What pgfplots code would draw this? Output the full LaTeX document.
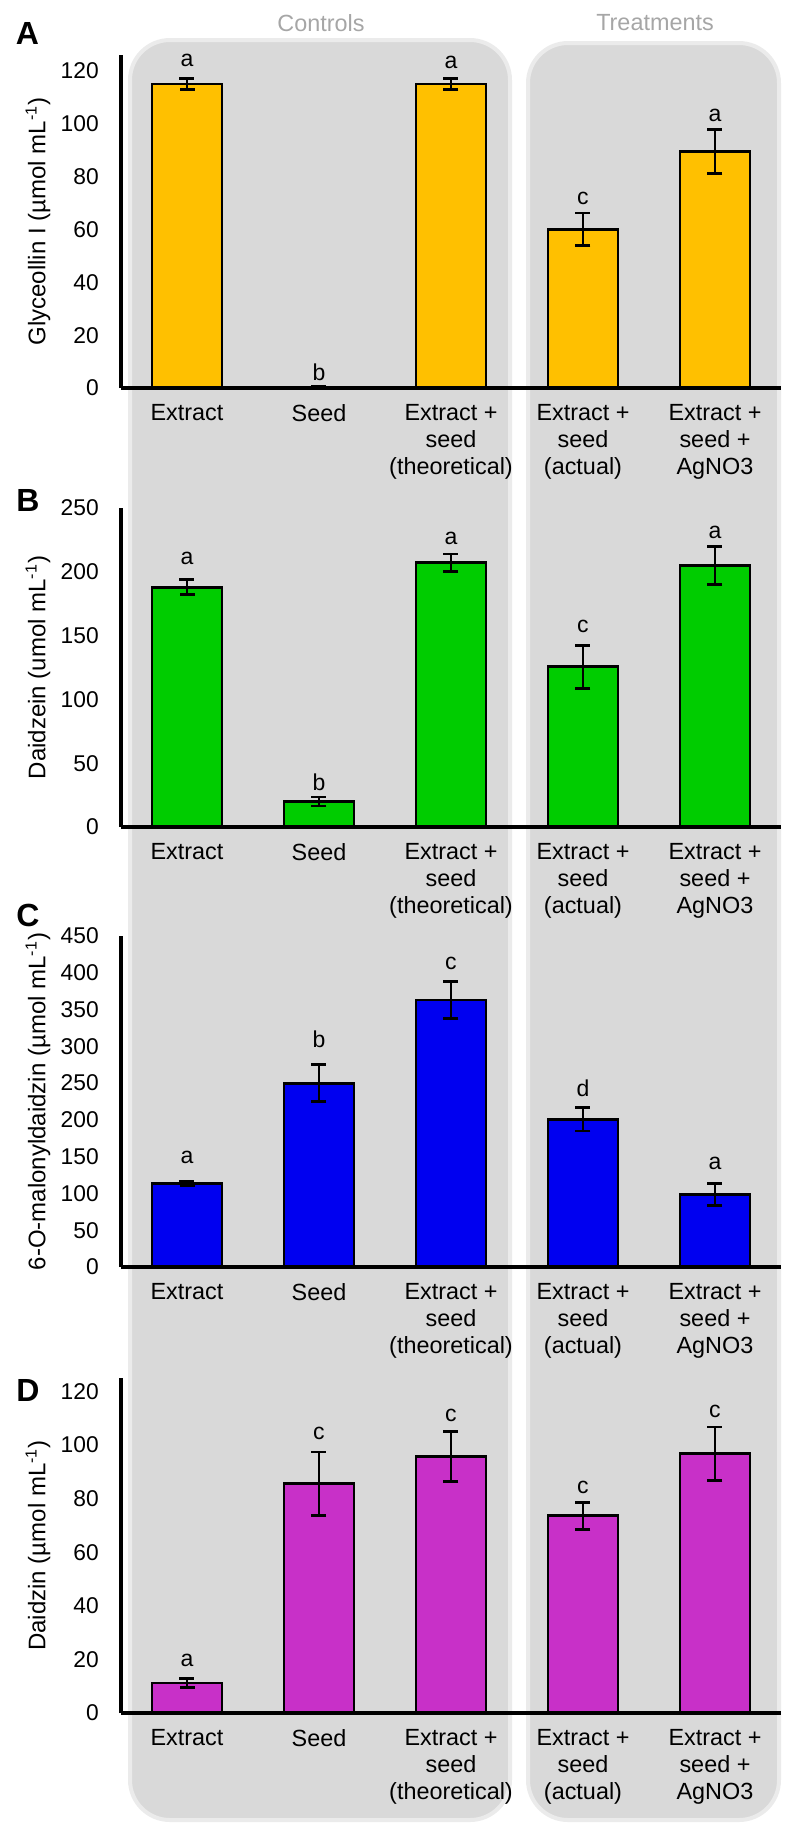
\documentclass[border=0pt]{standalone}
\usepackage{fontspec}
\setmainfont{Liberation Sans}
\usepackage{pgfplots}
\pgfplotsset{compat=1.18}
\usepackage{pgfplotstable}

\definecolor{cA}{HTML}{FFC000}
\definecolor{cB}{HTML}{00CC00}
\definecolor{cC}{HTML}{0000F0}
\definecolor{cD}{HTML}{C830C8}
\definecolor{boxgray}{HTML}{D9D9D9}
\definecolor{boxedge}{HTML}{EBEBEB}
\definecolor{grouptext}{HTML}{A6A6A6}

% x = category, y = mean, ep/em = error up/down, ly = letter position, l = letter
\pgfplotstableread{
x y ep em ly l
0 115 2 2 123.9 a
1 0 0.7 0 6.1 b
2 115 2 2 123.1 a
3 60 6.2 6.2 71.6 c
4 89.4 8.3 8.3 103.0 a
}\dataA
\pgfplotstableread{
x y ep em ly l
0 188 6 6 210.4 a
1 20 3.5 3.5 35.4 b
2 207 7 7 226.3 a
3 125.5 17 17 157 c
4 205 15 15 230.7 a
}\dataB
\pgfplotstableread{
x y ep em ly l
0 114 3 3 149.1 a
1 250 25 25 309.5 b
2 363 25 25 412.9 c
3 201 16 16 243 d
4 99 15 15 141 a
}\dataC
\pgfplotstableread{
x y ep em ly l
0 11.2 1.7 1.7 19.6 a
1 85.5 11.9 11.9 104.5 c
2 95.6 9.3 9.3 111 c
3 73.6 5 5 84 c
4 96.7 10 10 112.6 c
}\dataD

\pgfplotsset{
  panel/.style={
    scale only axis, width=330pt,
    xmin=-0.5, xmax=4.5, ymin=0,
    axis x line=bottom, axis y line=left,
    axis line style={line width=1.6pt, -},
    axis on top,
    xtick={0,1,2,3,4},
    xticklabels={Extract, Seed, {Extract +\\seed\\(theoretical)}, {Extract +\\seed\\(actual)}, {Extract +\\seed +\\AgNO3}},
    xticklabel style={align=center, font=\fontsize{11.7}{13.5}\selectfont, anchor=north, yshift=-4.6pt},
    major tick length=0pt,
    yticklabel style={font=\fontsize{11.4}{13}\selectfont, xshift=-7.6pt},
    /pgf/number format/assume math mode=true,
    ylabel style={at={(axis description cs:-0.1258,0.5)}, anchor=center, font=\fontsize{12}{14}\selectfont},
    clip=false,
  },
  bars/.style={
    ybar, bar width=35pt, bar shift=0pt,
    fill=#1, draw=black, line width=1.4pt,
    error bars/.cd, y dir=both, y explicit,
    error bar style={line width=1.4pt, black},
    error mark options={rotate=90, mark size=3.75pt, line width=1.4pt, black},
  },
  letters/.style={
    draw=none, mark=none, nodes near coords, point meta=explicit symbolic,
    every node near coord/.append style={anchor=center, font=\fontsize{11.5}{13}\selectfont, black, inner sep=0pt},
  },
}

\begin{document}
\begin{tikzpicture}
\path[use as bounding box] (0,0) rectangle (392.5pt,-921.5pt);

% group background boxes
\fill[boxgray, rounded corners=20pt, draw=boxedge, line width=2pt] (65pt,-20pt) rectangle (255pt,-910pt);
\fill[boxgray, rounded corners=20pt, draw=boxedge, line width=2pt] (264pt,-21.5pt) rectangle (389.5pt,-910pt);

\node[text=grouptext, font=\fontsize{11.7}{14}\selectfont] at (160.5pt,-11.5pt) {Controls};
\node[text=grouptext, font=\fontsize{11.7}{14}\selectfont] at (327.5pt,-11.5pt) {Treatments};

\node[font=\fontsize{16}{16}\selectfont\bfseries] at (13.75pt,-16.75pt) {A};
\node[font=\fontsize{16}{16}\selectfont\bfseries] at (14pt,-250pt) {B};
\node[font=\fontsize{16}{16}\selectfont\bfseries] at (14pt,-457.5pt) {C};
\node[font=\fontsize{16}{16}\selectfont\bfseries] at (14pt,-695pt) {D};

% Panel A
\begin{axis}[panel, at={(60.5pt,-194pt)}, anchor=south west, height=166.5pt,
  ymax=126, ytick={0,20,...,120},
  ylabel={Glyceollin I (µmol mL\textsuperscript{-1})}]
\addplot[bars=cA] table[x=x, y=y, y error plus=ep, y error minus=em] {\dataA};
\addplot[letters] table[x=x, y=ly, meta=l] {\dataA};
\end{axis}

% Panel B
\begin{axis}[panel, at={(60.5pt,-413.5pt)}, anchor=south west, height=159.5pt,
  ymax=250, ytick={0,50,...,250},
  ylabel={Daidzein (umol mL\textsuperscript{-1})}]
\addplot[bars=cB] table[x=x, y=y, y error plus=ep, y error minus=em] {\dataB};
\addplot[letters] table[x=x, y=ly, meta=l] {\dataB};
\end{axis}

% Panel C
\begin{axis}[panel, at={(60.5pt,-633.5pt)}, anchor=south west, height=165.5pt,
  ymax=450, ytick={0,50,...,450},
  ylabel={6-O-malonyldaidzin (µmol mL\textsuperscript{-1})}]
\addplot[bars=cC] table[x=x, y=y, y error plus=ep, y error minus=em] {\dataC};
\addplot[letters] table[x=x, y=ly, meta=l] {\dataC};
\end{axis}

% Panel D
\begin{axis}[panel, at={(60.5pt,-856.5pt)}, anchor=south west, height=167.5pt,
  ymax=125, ytick={0,20,...,120},
  ylabel={Daidzin (µmol mL\textsuperscript{-1})}]
\addplot[bars=cD] table[x=x, y=y, y error plus=ep, y error minus=em] {\dataD};
\addplot[letters] table[x=x, y=ly, meta=l] {\dataD};
\end{axis}
\end{tikzpicture}
\end{document}
